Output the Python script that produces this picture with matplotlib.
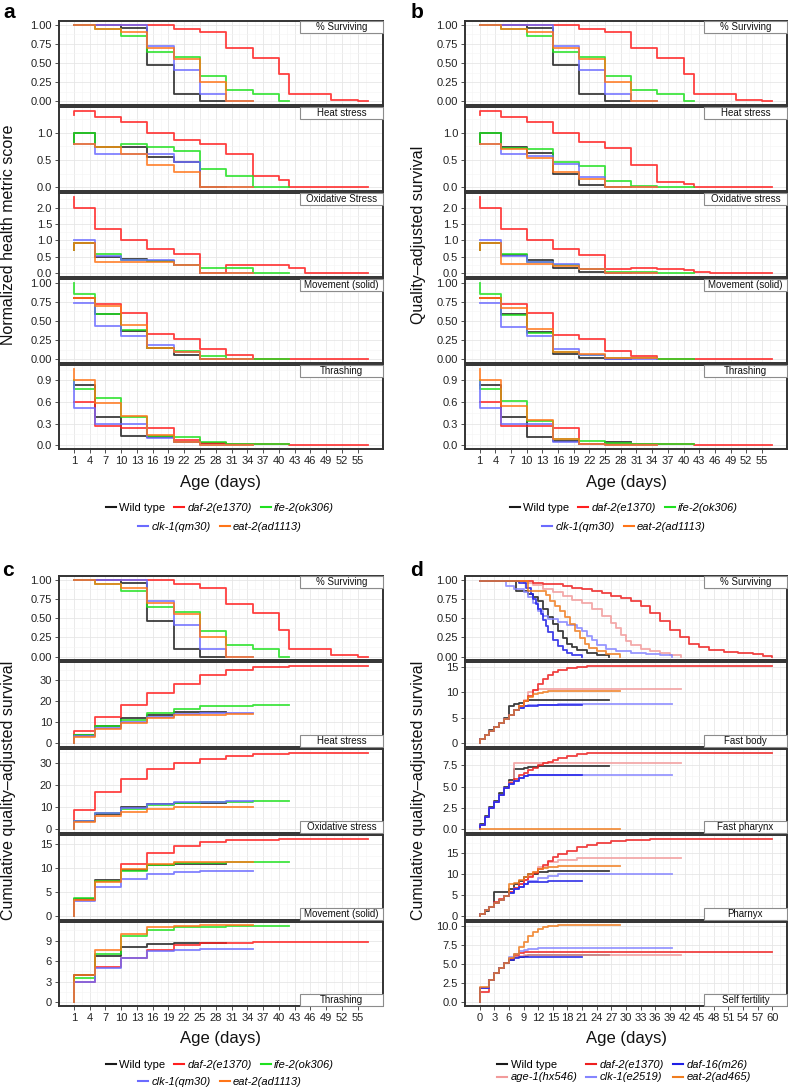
import matplotlib
matplotlib.use('Agg')
import matplotlib.pyplot as plt
from matplotlib.patches import Rectangle
from matplotlib.lines import Line2D
from matplotlib.ticker import FormatStrFormatter

plt.rcParams['font.family'] = ['Liberation Sans', 'DejaVu Sans']

W, H = 788, 1089

# ---- panels a-c: strains, day grids ----
DAYS_WT = [1, 1, 5, 10, 15, 20, 25, 30]
DAYS_DAF2 = [1, 1, 5, 10, 15, 20, 25, 30, 35, 40, 42, 45, 50, 55, 57]
DAYS_IFE2 = [1, 1, 5, 10, 15, 20, 25, 30, 35, 40, 42]
DAYS_CLK1 = [1, 1, 5, 10, 15, 20, 25, 30, 35]
DAYS_EAT2 = [1, 1, 5, 10, 15, 20, 25, 30, 35]

SURV = {
    'wt': [1.0, 1.0, 1.0, 0.96, 0.47, 0.10, 0.0, 0.0],
    'daf2': [1.0, 1.0, 1.0, 1.0, 1.0, 0.95, 0.90, 0.69, 0.57, 0.35, 0.10, 0.10, 0.02, 0.0, 0.0],
    'ife2': [1.0, 1.0, 0.94, 0.86, 0.65, 0.58, 0.33, 0.15, 0.10, 0.0, 0.0],
    'clk1': [1.0, 1.0, 1.0, 1.0, 0.72, 0.41, 0.10, 0.0, 0.0],
    'eat2': [1.0, 1.0, 0.94, 0.90, 0.70, 0.55, 0.25, 0.0, 0.0],
}

# a: normalized health metric score
A_HEAT = {
    'wt': [0.80, 1.0, 0.74, 0.74, 0.55, 0.47, 0.0, 0.0],
    'daf2': [1.32, 1.40, 1.28, 1.20, 1.00, 0.87, 0.80, 0.60, 0.21, 0.14, 0.0, 0.0, 0.0, 0.0, 0.0],
    'ife2': [0.80, 1.0, 0.74, 0.80, 0.74, 0.67, 0.33, 0.21, 0.0, 0.0, 0.0],
    'clk1': [0.80, 0.80, 0.60, 0.60, 0.60, 0.47, 0.0, 0.0, 0.0],
    'eat2': [0.80, 0.80, 0.74, 0.60, 0.40, 0.27, 0.0, 0.0, 0.0],
}
A_OXID = {
    'wt': [0.70, 0.93, 0.50, 0.42, 0.38, 0.25, 0.0, 0.0],
    'daf2': [2.33, 2.0, 1.35, 1.0, 0.75, 0.58, 0.0, 0.25, 0.25, 0.25, 0.16, 0.0, 0.0, 0.0, 0.0],
    'ife2': [0.70, 0.93, 0.60, 0.40, 0.38, 0.25, 0.16, 0.16, 0.0, 0.0, 0.0],
    'clk1': [1.0, 1.0, 0.51, 0.39, 0.41, 0.25, 0.0, 0.0, 0.0],
    'eat2': [0.70, 0.93, 0.34, 0.34, 0.34, 0.24, 0.0, 0.0, 0.0],
}
A_MOVE = {
    'wt': [0.80, 0.80, 0.59, 0.37, 0.14, 0.06, 0.0, 0.0],
    'daf2': [0.80, 0.80, 0.72, 0.60, 0.33, 0.27, 0.13, 0.06, 0.0, 0.0, 0.0, 0.0, 0.0, 0.0, 0.0],
    'ife2': [1.0, 0.855, 0.59, 0.38, 0.14, 0.11, 0.04, 0.0, 0.0, 0.0, 0.0],
    'clk1': [0.73, 0.73, 0.43, 0.30, 0.185, 0.10, 0.0, 0.0, 0.0],
    'eat2': [0.80, 0.80, 0.70, 0.45, 0.14, 0.10, 0.0, 0.0, 0.0],
}
A_THRASH = {
    'wt': [0.84, 0.84, 0.39, 0.13, 0.12, 0.05, 0.03, 0.03],
    'daf2': [0.60, 0.60, 0.27, 0.24, 0.24, 0.07, 0.03, 0.02, 0.02, 0.02, 0.0, 0.0, 0.0, 0.0, 0.0],
    'ife2': [0.90, 0.785, 0.65, 0.39, 0.13, 0.12, 0.05, 0.02, 0.01, 0.01, 0.01],
    'clk1': [0.88, 0.52, 0.30, 0.30, 0.10, 0.05, 0.0, 0.0, 0.0],
    'eat2': [1.06, 0.90, 0.58, 0.40, 0.14, 0.04, 0.0, 0.0, 0.0],
}

# b: quality-adjusted survival
B_HEAT = {
    'wt': [0.80, 1.0, 0.73, 0.62, 0.25, 0.04, 0.0, 0.0],
    'daf2': [1.32, 1.40, 1.28, 1.20, 1.0, 0.82, 0.72, 0.41, 0.10, 0.05, 0.0, 0.0, 0.0, 0.0, 0.0],
    'ife2': [0.80, 1.0, 0.72, 0.70, 0.47, 0.39, 0.11, 0.03, 0.01, 0.01, 0.01],
    'clk1': [0.80, 0.80, 0.60, 0.58, 0.43, 0.19, 0.0, 0.0, 0.0],
    'eat2': [0.80, 0.80, 0.70, 0.54, 0.28, 0.15, 0.0, 0.0, 0.0],
}
B_OXID = {
    'wt': [0.70, 0.93, 0.57, 0.40, 0.16, 0.05, 0.0, 0.0],
    'daf2': [2.33, 2.0, 1.35, 1.0, 0.75, 0.55, 0.14, 0.17, 0.14, 0.10, 0.05, 0.0, 0.0, 0.0, 0.0],
    'ife2': [0.70, 0.93, 0.60, 0.33, 0.24, 0.12, 0.05, 0.05, 0.02, 0.02, 0.02],
    'clk1': [1.0, 1.0, 0.51, 0.33, 0.28, 0.12, 0.0, 0.0, 0.0],
    'eat2': [0.70, 0.93, 0.29, 0.27, 0.22, 0.12, 0.02, 0.02, 0.02],
}
B_MOVE = {
    'wt': [0.80, 0.80, 0.59, 0.35, 0.07, 0.01, 0.0, 0.0],
    'daf2': [0.80, 0.80, 0.72, 0.60, 0.32, 0.26, 0.11, 0.04, 0.0, 0.0, 0.0, 0.0, 0.0, 0.0, 0.0],
    'ife2': [1.0, 0.855, 0.58, 0.34, 0.10, 0.06, 0.02, 0.01, 0.0, 0.0, 0.0],
    'clk1': [0.73, 0.73, 0.42, 0.30, 0.13, 0.06, 0.0, 0.0, 0.0],
    'eat2': [0.80, 0.80, 0.67, 0.40, 0.10, 0.07, 0.01, 0.01, 0.01],
}
B_THRASH = {
    'wt': [0.84, 0.84, 0.39, 0.12, 0.06, 0.02, 0.04, 0.04],
    'daf2': [0.60, 0.60, 0.27, 0.26, 0.24, 0.02, 0.02, 0.02, 0.01, 0.01, 0.0, 0.0, 0.0, 0.0, 0.0],
    'ife2': [0.90, 0.785, 0.62, 0.33, 0.08, 0.06, 0.03, 0.02, 0.01, 0.01, 0.01],
    'clk1': [0.88, 0.52, 0.30, 0.30, 0.05, 0.01, 0.0, 0.0, 0.0],
    'eat2': [1.06, 0.90, 0.55, 0.35, 0.09, 0.02, 0.0, 0.0, 0.0],
}

# c: cumulative quality-adjusted survival
C_HEAT = {
    'wt': [0.0, 4.0, 8.0, 11.9, 13.5, 15.0, 15.0, 15.0],
    'daf2': [0.0, 5.6, 12.3, 18.4, 23.9, 28.4, 32.5, 35.0, 36.3, 36.6, 36.8, 36.8, 36.8, 36.8, 36.8],
    'ife2': [0.0, 4.0, 8.2, 11.2, 14.3, 16.4, 17.5, 17.9, 18.1, 18.2, 18.2],
    'clk1': [0.0, 3.2, 7.0, 10.0, 12.5, 14.0, 14.2, 14.4, 14.4],
    'eat2': [0.0, 3.0, 6.6, 9.7, 12.0, 13.2, 13.6, 13.8, 13.8],
}
C_OXID = {
    'wt': [0.0, 3.6, 7.0, 10.0, 11.3, 11.9, 11.9, 11.9],
    'daf2': [0.0, 8.8, 17.0, 22.8, 27.2, 30.0, 32.0, 33.2, 34.0, 34.3, 34.4, 34.5, 34.6, 34.7, 34.7],
    'ife2': [0.0, 3.6, 7.2, 9.3, 10.8, 11.9, 12.4, 12.6, 12.7, 12.7, 12.7],
    'clk1': [0.0, 3.8, 7.5, 9.7, 11.5, 12.2, 12.6, 12.7, 12.7],
    'eat2': [0.0, 3.2, 6.2, 7.8, 9.0, 9.9, 10.2, 10.3, 10.3],
}
C_MOVE = {
    'wt': [0.0, 3.6, 7.5, 9.6, 10.5, 10.8, 10.8, 10.8],
    'daf2': [0.0, 3.2, 7.3, 10.8, 13.1, 14.6, 15.4, 15.7, 15.9, 16.0, 16.0, 16.0, 16.0, 16.0, 16.0],
    'ife2': [0.0, 3.8, 7.2, 9.4, 10.6, 10.9, 11.1, 11.2, 11.2, 11.2, 11.2],
    'clk1': [0.0, 3.1, 6.0, 7.7, 8.8, 9.2, 9.4, 9.4, 9.4],
    'eat2': [0.0, 3.2, 7.0, 9.7, 10.8, 11.2, 11.3, 11.3, 11.3],
}
C_THRASH = {
    'wt': [0.0, 3.9, 6.8, 8.1, 8.5, 8.7, 8.7, 8.7],
    'daf2': [0.0, 3.0, 5.2, 6.5, 7.6, 8.3, 8.6, 8.7, 8.8, 8.8, 8.8, 8.8, 8.8, 8.8, 8.8],
    'ife2': [0.0, 3.6, 7.1, 9.7, 10.6, 10.9, 11.0, 11.1, 11.1, 11.1, 11.1],
    'clk1': [0.0, 3.0, 5.0, 6.4, 7.4, 7.6, 7.7, 7.7, 7.7],
    'eat2': [0.0, 4.0, 7.6, 10.0, 10.9, 11.1, 11.2, 11.2, 11.2],
}

# ---- panel d ----
DS_WT_DAYS = [0, 7.5, 10, 11, 12, 13, 14, 15, 16, 17, 18, 19, 20, 22, 24, 26.5]
DS_WT = [0.98, 0.85, 0.82, 0.78, 0.72, 0.62, 0.52, 0.42, 0.33, 0.24, 0.17, 0.12, 0.08, 0.04, 0.02, 0.0]
DS_DAF2_DAYS = [0, 11, 13, 15, 17, 19, 21, 23, 25, 27, 29, 31, 33, 35, 37, 39, 41, 43, 45, 47, 50, 53, 56, 58, 60]
DS_DAF2 = [0.98, 0.96, 0.95, 0.94, 0.92, 0.90, 0.88, 0.86, 0.83, 0.79, 0.76, 0.72, 0.66, 0.57, 0.47,
           0.35, 0.25, 0.17, 0.12, 0.09, 0.06, 0.04, 0.03, 0.01, 0.0]
DS_DAF16_DAYS = [0, 8, 9.5, 10.5, 11, 11.5, 12, 12.5, 13, 13.5, 14, 15, 16, 17, 18, 19, 21]
DS_DAF16 = [0.98, 0.96, 0.90, 0.82, 0.75, 0.69, 0.62, 0.55, 0.48, 0.40, 0.32, 0.22, 0.14, 0.09, 0.05, 0.02, 0.0]
DS_AGE1_DAYS = [0, 9, 11, 13, 15, 17, 19, 21, 23, 25, 27, 28, 29, 30, 31, 33, 35, 37, 39, 41.2]
DS_AGE1 = [0.98, 0.96, 0.93, 0.88, 0.84, 0.79, 0.74, 0.70, 0.62, 0.53, 0.44, 0.37, 0.28, 0.20, 0.15,
           0.10, 0.07, 0.04, 0.02, 0.0]
DS_CLK1_DAYS = [0, 5.5, 7, 9, 10, 11, 12, 13, 14, 16, 18, 20, 21, 22, 23, 24, 26, 28, 31, 34, 37, 39.5]
DS_CLK1 = [0.98, 0.92, 0.88, 0.84, 0.78, 0.70, 0.60, 0.53, 0.49, 0.45, 0.41, 0.37, 0.33, 0.27, 0.21,
           0.15, 0.10, 0.07, 0.05, 0.03, 0.02, 0.0]
DS_EAT2_DAYS = [0, 10, 13.5, 14.5, 15.5, 16.5, 17.5, 18.5, 19.5, 20.5, 21.5, 22.5, 24, 26, 28.7]
DS_EAT2 = [0.98, 0.85, 0.80, 0.72, 0.66, 0.60, 0.52, 0.42, 0.33, 0.24, 0.17, 0.11, 0.07, 0.03, 0.0]

DD_WT = [0, 0, 1, 2, 3, 4, 5, 6, 7, 8, 9, 10, 12, 14, 16, 20, 26.5]
DD_DAF2 = [0, 0, 1, 2, 3, 4, 5, 6, 7, 8, 9, 10, 11, 12, 13, 14, 15, 16, 18, 20, 22, 24, 27, 30, 35, 40, 60]
DD_DAF16 = [0, 0, 1, 2, 3, 4, 5, 6, 7, 8, 9, 10, 12, 14, 16, 21]
DD_AGE1 = [0, 0, 1, 2, 3, 4, 5, 6, 7, 8, 9, 10, 11, 12, 14, 16, 20, 41.2]
DD_CLK1 = [0, 0, 1, 2, 3, 4, 5, 6, 7, 8, 9, 10, 12, 14, 16, 20, 39.5]
DD_EAT2 = [0, 0, 1, 2, 3, 4, 5, 6, 7, 8, 9, 10, 11, 12, 13, 14, 16, 18, 28.7]

D_FASTBODY = {
    'wt': [0, 0.7, 1.5, 2.5, 3.2, 4.0, 5.0, 7.3, 7.6, 7.9, 8.2, 8.4, 8.5, 8.55, 8.55, 8.55, 8.55],
    'daf2': [0, 0.7, 1.5, 2.3, 3.1, 4.0, 4.8, 5.6, 6.4, 7.3, 8.2, 9.2, 10.5, 11.7, 12.6, 13.4, 13.9, 14.3,
             14.8, 15.0, 15.1, 15.1, 15.1, 15.1, 15.1, 15.1, 15.1],
    'daf16': [0, 0.7, 1.5, 2.3, 3.1, 4.0, 4.8, 5.6, 6.4, 6.9, 7.2, 7.35, 7.45, 7.45, 7.45, 7.45],
    'age1': [0, 0.7, 1.5, 2.3, 3.1, 4.0, 4.8, 5.6, 6.4, 7.3, 8.5, 10.1, 10.4, 10.6, 10.7, 10.7, 10.7, 10.7],
    'clk1': [0, 0.7, 1.5, 2.3, 3.1, 4.0, 4.8, 5.6, 6.4, 6.9, 7.2, 7.4, 7.5, 7.55, 7.6, 7.6, 7.6],
    'eat2': [0, 0.7, 1.5, 2.3, 3.1, 4.0, 4.8, 5.6, 6.4, 7.2, 8.2, 9.1, 9.6, 9.9, 10.1, 10.2, 10.3, 10.3, 10.3],
}
D_FASTPHARYNX = {
    'wt': [0, 0.6, 1.6, 2.6, 3.3, 4.2, 5.0, 5.8, 7.0, 7.1, 7.2, 7.3, 7.4, 7.43, 7.43, 7.43, 7.43],
    'daf2': [0, 0.5, 1.5, 2.5, 3.2, 4.0, 4.8, 5.4, 5.9, 6.3, 6.6, 6.9, 7.2, 7.5, 7.7, 7.9, 8.1, 8.3,
             8.6, 8.8, 8.9, 8.97, 8.97, 8.97, 8.97, 8.97, 8.97],
    'daf16': [0, 0.5, 1.5, 2.5, 3.2, 4.0, 4.8, 5.3, 5.7, 6.0, 6.2, 6.3, 6.4, 6.4, 6.4, 6.4],
    'age1': [0, 0.5, 1.5, 2.5, 3.2, 4.0, 4.8, 5.5, 7.7, 7.7, 7.7, 7.7, 7.7, 7.7, 7.7, 7.7, 7.7, 7.7],
    'clk1': [0, 0.5, 1.5, 2.5, 3.2, 4.0, 4.8, 5.3, 5.7, 6.0, 6.2, 6.3, 6.4, 6.4, 6.4, 6.4, 6.4],
    'eat2': [0, 0.05, 0.05, 0.05, 0.05, 0.05, 0.05, 0.05, 0.05, 0.05, 0.05, 0.05, 0.05, 0.05, 0.05, 0.05,
             0.05, 0.05, 0.05],
}
D_PHARYNX = {
    'wt': [0, 0.5, 1.2, 2.0, 5.6, 5.6, 5.6, 6.5, 7.5, 8.4, 9.3, 10.0, 10.5, 10.8, 10.8, 10.8, 10.8],
    'daf2': [0, 0.4, 1.3, 2.0, 3.2, 4.0, 4.8, 5.6, 6.6, 7.6, 8.5, 9.2, 10.2, 11.2, 12.2, 13.1, 14.0, 14.7,
             15.6, 16.4, 17.0, 17.5, 18.0, 18.2, 18.4, 18.4, 18.4],
    'daf16': [0, 0.4, 1.3, 2.0, 3.0, 3.9, 4.8, 5.5, 6.3, 7.0, 7.6, 8.0, 8.2, 8.26, 8.26, 8.26],
    'age1': [0, 0.4, 1.3, 2.0, 3.0, 3.9, 4.8, 5.6, 6.6, 7.6, 8.6, 9.6, 10.6, 11.6, 12.8, 13.4, 13.8, 13.9],
    'clk1': [0, 0.4, 1.3, 2.0, 3.0, 3.9, 4.8, 5.5, 6.3, 7.0, 7.7, 8.3, 9.0, 9.6, 9.9, 10.0, 10.0],
    'eat2': [0, 0.4, 1.3, 2.0, 3.0, 3.9, 4.8, 7.6, 7.8, 8.6, 9.4, 10.0, 10.6, 11.1, 11.5, 11.8, 11.9, 11.9, 11.9],
}
D_FERTILITY = {
    'wt': [0, 1.9, 1.9, 2.9, 3.8, 4.5, 5.2, 5.6, 5.9, 6.0, 6.1, 6.2, 6.2, 6.2, 6.2, 6.2, 6.2],
    'daf2': [0, 1.4, 1.4, 2.9, 3.8, 4.5, 5.2, 5.7, 6.2, 6.5, 6.6, 6.65, 6.65, 6.65, 6.65, 6.65, 6.65, 6.65,
             6.65, 6.65, 6.65, 6.65, 6.65, 6.65, 6.65, 6.65, 6.65],
    'daf16': [0, 1.9, 1.9, 2.9, 3.8, 4.5, 5.2, 5.6, 5.8, 5.9, 6.0, 6.0, 6.0, 6.0, 6.0, 6.0],
    'age1': [0, 1.9, 1.9, 2.9, 3.8, 4.5, 5.2, 5.7, 6.0, 6.1, 6.15, 6.15, 6.15, 6.15, 6.15, 6.15, 6.15, 6.15],
    'clk1': [0, 1.9, 1.9, 2.9, 3.8, 4.5, 5.2, 5.9, 6.3, 6.7, 6.9, 7.0, 7.1, 7.1, 7.1, 7.1, 7.1],
    'eat2': [0, 2.0, 2.0, 2.9, 3.9, 4.5, 5.1, 5.8, 6.4, 7.2, 7.9, 8.7, 9.2, 9.6, 9.9, 10.0, 10.1, 10.1, 10.1],
}

STRAINS_ABC = ['wt', 'daf2', 'ife2', 'clk1', 'eat2']
DAYS_ABC = {'wt': DAYS_WT, 'daf2': DAYS_DAF2, 'ife2': DAYS_IFE2, 'clk1': DAYS_CLK1, 'eat2': DAYS_EAT2}
COLORS_ABC = {'wt': '#1a1a1a', 'daf2': '#ff1f1f', 'ife2': '#1fe01f', 'clk1': '#6b6bff', 'eat2': '#ff7518'}
LABELS_ABC = {'wt': 'Wild type', 'daf2': 'daf-2(e1370)', 'ife2': 'ife-2(ok306)',
              'clk1': 'clk-1(qm30)', 'eat2': 'eat-2(ad1113)'}

STRAINS_D = ['wt', 'age1', 'daf2', 'clk1', 'daf16', 'eat2']
DAYS_DS = {'wt': DS_WT_DAYS, 'daf2': DS_DAF2_DAYS, 'daf16': DS_DAF16_DAYS,
           'age1': DS_AGE1_DAYS, 'clk1': DS_CLK1_DAYS, 'eat2': DS_EAT2_DAYS}
VALS_DS = {'wt': DS_WT, 'daf2': DS_DAF2, 'daf16': DS_DAF16, 'age1': DS_AGE1, 'clk1': DS_CLK1, 'eat2': DS_EAT2}
DAYS_DD = {'wt': DD_WT, 'daf2': DD_DAF2, 'daf16': DD_DAF16, 'age1': DD_AGE1, 'clk1': DD_CLK1, 'eat2': DD_EAT2}
COLORS_D = {'wt': '#1a1a1a', 'daf2': '#ee2020', 'daf16': '#1f1fe6', 'age1': '#f29b9b',
            'clk1': '#8585ff', 'eat2': '#f07d1f'}
LABELS_D = {'wt': 'Wild type', 'daf2': 'daf-2(e1370)', 'daf16': 'daf-16(m26)',
            'age1': 'age-1(hx546)', 'clk1': 'clk-1(e2519)', 'eat2': 'eat-2(ad465)'}

XT_ABC = list(range(1, 56, 3))
XL_ABC = (-1.8, 59.8)
XT_D = list(range(0, 61, 3))
XL_D = (-3, 63)

fig = plt.figure(figsize=(W / 100, H / 100), dpi=100)


def make_axes(x0, x1, top, bottom, i, gap=2):
    h = (bottom - top - 4 * gap) / 5
    t = top + i * (h + gap)
    return fig.add_axes([x0 / W, 1 - (t + h) / H, (x1 - x0) / W, h / H])


def panel(ax, series, strip_text, strip_pos, yticks, yfmt, xticks, xlim, show_x, rng=None):
    for days, vals, color in series:
        ax.step(days, vals, where='post', color=color, lw=1.3, alpha=0.85)
    if rng is None:
        lo = min(min(v) for _, v, _ in series)
        hi = max(max(v) for _, v, _ in series)
    else:
        lo, hi = rng
    pad = 0.05 * (hi - lo)
    ax.set_ylim(lo - pad, hi + pad)
    ax.set_xlim(xlim)
    ax.set_xticks(xticks)
    step = xticks[1] - xticks[0]
    ax.set_xticks([xticks[0] - step / 2] + [t + step / 2 for t in xticks], minor=True)
    ax.set_yticks(yticks)
    ys = yticks[1] - yticks[0]
    ax.set_yticks([yticks[0] - ys / 2] + [t + ys / 2 for t in yticks], minor=True)
    ax.set_ylim(lo - pad, hi + pad)
    ax.yaxis.set_major_formatter(FormatStrFormatter(yfmt))
    ax.grid(which='major', color='#e6e6e6', lw=0.6)
    ax.grid(which='minor', color='#f3f3f3', lw=0.4)
    ax.set_axisbelow(True)
    for s in ax.spines.values():
        s.set_color('#333333')
        s.set_linewidth(1.4)
    ax.tick_params(which='major', length=3, width=0.6, color='#333333', labelsize=8, pad=2,
                   labelcolor='#222222')
    ax.tick_params(which='minor', length=0)
    if not show_x:
        ax.tick_params(axis='x', which='major', labelbottom=False, length=0)
    # facet strip label
    bb = ax.get_position()
    fw = 83 / (bb.width * W)
    fh = 12 / (bb.height * H)
    y0 = 1 - fh if strip_pos == 'top' else 0
    ax.add_patch(Rectangle((1 - fw, y0), fw, fh, transform=ax.transAxes, facecolor='white',
                           edgecolor='#8c8c8c', lw=0.8, zorder=5, clip_on=False))
    ax.text(1 - fw / 2, y0 + fh / 2, strip_text, transform=ax.transAxes, ha='center', va='center',
            fontsize=7, zorder=6, color='#111111')


def abc_series(metric):
    return [(DAYS_ABC[s], metric[s], COLORS_ABC[s]) for s in STRAINS_ABC]


def d_series(days_map, metric, order):
    return [(days_map[s], metric[s], COLORS_D[s]) for s in order]


D_ORDER = ['wt', 'age1', 'daf2', 'clk1', 'daf16', 'eat2']

# ---- column a and b ----
for x0, x1, mats in [(59, 383, (A_HEAT, A_OXID, A_MOVE, A_THRASH)),
                     (465, 787, (B_HEAT, B_OXID, B_MOVE, B_THRASH))]:
    ax = make_axes(x0, x1, 21, 449, 0)
    panel(ax, abc_series(SURV), '% Surviving', 'top', [0, 0.25, 0.5, 0.75, 1.0], '%.2f',
          XT_ABC, XL_ABC, False, rng=(0, 1))
    ax = make_axes(x0, x1, 21, 449, 1)
    panel(ax, abc_series(mats[0]), 'Heat stress', 'top', [0, 0.5, 1.0], '%.1f', XT_ABC, XL_ABC, False)
    ax = make_axes(x0, x1, 21, 449, 2)
    panel(ax, abc_series(mats[1]), 'Oxidative Stress' if x0 < 100 else 'Oxidative stress', 'top',
          [0, 0.5, 1.0, 1.5, 2.0], '%.1f', XT_ABC, XL_ABC, False)
    ax = make_axes(x0, x1, 21, 449, 3)
    panel(ax, abc_series(mats[2]), 'Movement (solid)', 'top', [0, 0.25, 0.5, 0.75, 1.0], '%.2f',
          XT_ABC, XL_ABC, False)
    ax = make_axes(x0, x1, 21, 449, 4)
    panel(ax, abc_series(mats[3]), 'Thrashing', 'top', [0, 0.3, 0.6, 0.9], '%.1f', XT_ABC, XL_ABC, True)

# ---- column c ----
ax = make_axes(59, 383, 576, 1006, 0)
panel(ax, abc_series(SURV), '% Surviving', 'top', [0, 0.25, 0.5, 0.75, 1.0], '%.2f',
      XT_ABC, XL_ABC, False, rng=(0, 1))
ax = make_axes(59, 383, 576, 1006, 1)
panel(ax, abc_series(C_HEAT), 'Heat stress', 'bottom', [0, 10, 20, 30], '%d', XT_ABC, XL_ABC, False)
ax = make_axes(59, 383, 576, 1006, 2)
panel(ax, abc_series(C_OXID), 'Oxidative stress', 'bottom', [0, 10, 20, 30], '%d', XT_ABC, XL_ABC, False)
ax = make_axes(59, 383, 576, 1006, 3)
panel(ax, abc_series(C_MOVE), 'Movement (solid)', 'bottom', [0, 5, 10, 15], '%d', XT_ABC, XL_ABC, False)
ax = make_axes(59, 383, 576, 1006, 4)
panel(ax, abc_series(C_THRASH), 'Thrashing', 'bottom', [0, 3, 6, 9], '%d', XT_ABC, XL_ABC, True)

# ---- column d ----
ax = make_axes(465, 787, 576, 1006, 0)
panel(ax, [(DAYS_DS[s], VALS_DS[s], COLORS_D[s]) for s in D_ORDER], '% Surviving', 'top',
      [0, 0.25, 0.5, 0.75, 1.0], '%.2f', XT_D, XL_D, False, rng=(0, 1))
ax = make_axes(465, 787, 576, 1006, 1)
panel(ax, d_series(DAYS_DD, D_FASTBODY, D_ORDER), 'Fast body', 'bottom', [0, 5, 10, 15], '%d',
      XT_D, XL_D, False)
ax = make_axes(465, 787, 576, 1006, 2)
panel(ax, d_series(DAYS_DD, D_FASTPHARYNX, D_ORDER), 'Fast pharynx', 'bottom', [0, 2.5, 5.0, 7.5], '%.1f',
      XT_D, XL_D, False)
ax = make_axes(465, 787, 576, 1006, 3)
panel(ax, d_series(DAYS_DD, D_PHARYNX, D_ORDER), 'Pharnyx', 'bottom', [0, 5, 10, 15], '%d',
      XT_D, XL_D, False)
ax = make_axes(465, 787, 576, 1006, 4)
panel(ax, d_series(DAYS_DD, D_FERTILITY, D_ORDER), 'Self fertility', 'bottom', [0, 2.5, 5.0, 7.5, 10.0],
      '%.1f', XT_D, XL_D, True)

# ---- texts ----
for x, y, s in [(9, 13, 'a'), (417, 13, 'b'), (8, 570, 'c'), (417, 570, 'd')]:
    fig.text(x / W, 1 - y / H, s, fontsize=15, fontweight='bold', ha='center', va='center')

for x, y, s in [(9, 235, 'Normalized health metric score'), (419, 235, 'Quality\u2013adjusted survival'),
                (9, 790, 'Cumulative quality\u2013adjusted survival'),
                (419, 790, 'Cumulative quality\u2013adjusted survival')]:
    fig.text(x / W, 1 - y / H, s, fontsize=11.5, rotation=90, ha='center', va='center', color='#111111')

for x, y in [(221, 483), (626, 483), (221, 1039), (626, 1039)]:
    fig.text(x / W, 1 - y / H, 'Age (days)', fontsize=12, ha='center', va='center', color='#111111')


def add_legend(keys, colors, labels, cx, cy, ncol):
    handles = [Line2D([], [], color=colors[k], lw=1.5) for k in keys]
    leg = fig.legend(handles, [labels[k] for k in keys], loc='center', bbox_to_anchor=(cx / W, 1 - cy / H),
                     ncol=ncol, frameon=False, fontsize=8, handlelength=0.9, handletextpad=0.3,
                     columnspacing=0.8, borderpad=0.1, labelspacing=0.25)
    for t in leg.get_texts():
        if t.get_text() != 'Wild type':
            t.set_style('italic')


for cx, y1, y2 in [(220, 508, 527), (624, 508, 527), (220, 1065, 1082)]:
    add_legend(['wt', 'daf2', 'ife2'], COLORS_ABC, LABELS_ABC, cx, y1, 3)
    add_legend(['clk1', 'eat2'], COLORS_ABC, LABELS_ABC, cx, y2, 2)

add_legend(['wt', 'age1', 'daf2', 'clk1', 'daf16', 'eat2'], COLORS_D, LABELS_D, 624, 1071, 3)

fig.savefig('out.png', dpi=100)
